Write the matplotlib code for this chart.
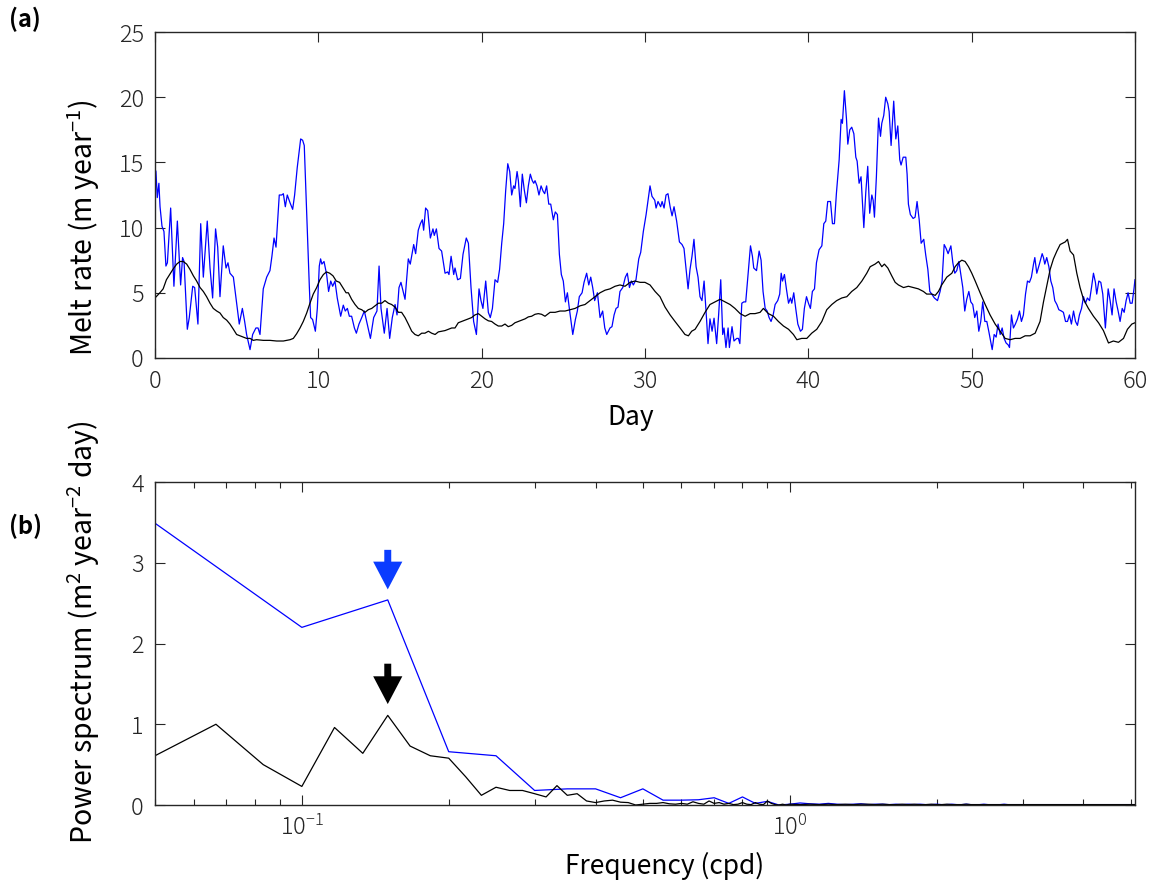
import numpy as np
import matplotlib
matplotlib.use('Agg')
import matplotlib.pyplot as plt
from matplotlib.ticker import LogLocator, NullFormatter

# (a) melt rate time series (day, m/yr)
blue_day = [
    0.0, 0.06, 0.14, 0.24, 0.31, 0.43, 0.55, 0.67, 0.76, 0.96, 1.16, 1.37, 1.57, 1.69, 1.78, 1.98,
    2.10, 2.31, 2.43, 2.63, 2.80, 2.96, 3.20, 3.37, 3.53, 3.71, 3.84, 3.98, 4.18, 4.35, 4.47, 4.59,
    4.80, 4.96, 5.16, 5.35, 5.49, 5.61, 5.82, 5.98, 6.18, 6.31, 6.43, 6.63, 6.84, 7.04, 7.16, 7.29,
    7.41, 7.61, 7.76, 7.86, 7.98, 8.10, 8.27, 8.43, 8.55, 8.71, 8.92, 9.04, 9.14, 9.29, 9.45, 9.53,
    9.65, 9.82, 9.94, 10.06, 10.14, 10.22, 10.35, 10.51, 10.63, 10.76, 10.88, 11.02, 11.16, 11.37,
    11.53, 11.65, 11.78, 11.90, 12.04, 12.21, 12.33, 12.49, 12.66, 12.82, 12.98, 13.19, 13.39,
    13.59, 13.72, 13.84, 14.04, 14.21, 14.37, 14.53, 14.70, 14.82, 14.94, 15.06, 15.31, 15.51,
    15.63, 15.84, 15.96, 16.12, 16.25, 16.37, 16.45, 16.57, 16.70, 16.86, 17.02, 17.10, 17.23,
    17.39, 17.55, 17.76, 17.92, 18.00, 18.13, 18.29, 18.37, 18.53, 18.70, 18.86, 19.06, 19.19,
    19.35, 19.51, 19.68, 19.84, 19.96, 20.08, 20.25, 20.41, 20.53, 20.66, 20.82, 20.98, 21.10,
    21.23, 21.35, 21.47, 21.60, 21.72, 21.84, 21.96, 22.04, 22.17, 22.25, 22.37, 22.49, 22.61,
    22.74, 22.86, 22.98, 23.10, 23.19, 23.27, 23.39, 23.51, 23.64, 23.76, 23.86, 23.98, 24.11,
    24.23, 24.39, 24.51, 24.64, 24.76, 24.88, 25.00, 25.13, 25.25, 25.37, 25.58, 25.74, 25.86,
    25.98, 26.15, 26.27, 26.43, 26.56, 26.68, 26.80, 26.92, 27.09, 27.25, 27.41, 27.54, 27.66,
    27.86, 27.98, 28.11, 28.23, 28.35, 28.47, 28.64, 28.80, 28.92, 29.05, 29.17, 29.29, 29.45,
    29.62, 29.74, 29.90, 30.07, 30.19, 30.31, 30.43, 30.60, 30.68, 30.80, 30.96, 31.05, 31.17,
    31.29, 31.41, 31.54, 31.66, 31.78, 31.94, 32.11, 32.27, 32.39, 32.51, 32.64, 32.76, 32.88,
    33.00, 33.13, 33.25, 33.37, 33.49, 33.62, 33.78, 33.86, 33.98, 34.11, 34.23, 34.39, 34.51,
    34.64, 34.76, 34.84, 34.96, 35.09, 35.17, 35.33, 35.45, 35.62, 35.72, 35.81, 35.93, 36.05,
    36.17, 36.30, 36.46, 36.58, 36.66, 36.83, 36.99, 37.11, 37.23, 37.36, 37.48, 37.60, 37.72,
    37.85, 37.97, 38.13, 38.25, 38.34, 38.42, 38.54, 38.66, 38.79, 38.91, 38.99, 39.11, 39.23,
    39.36, 39.52, 39.64, 39.76, 39.89, 40.01, 40.13, 40.25, 40.38, 40.50, 40.66, 40.83, 40.95,
    41.07, 41.19, 41.36, 41.48, 41.60, 41.72, 41.89, 42.01, 42.09, 42.21, 42.34, 42.42, 42.54,
    42.66, 42.79, 42.91, 42.99, 43.11, 43.23, 43.40, 43.52, 43.64, 43.76, 43.89, 43.97, 44.05,
    44.17, 44.30, 44.42, 44.50, 44.62, 44.74, 44.87, 44.95, 45.07, 45.23, 45.36, 45.48, 45.60,
    45.68, 45.81, 45.97, 46.05, 46.13, 46.25, 46.42, 46.54, 46.66, 46.79, 46.91, 47.07, 47.19,
    47.32, 47.44, 47.56, 47.72, 47.91, 48.07, 48.19, 48.32, 48.44, 48.56, 48.73, 48.85, 48.97,
    49.09, 49.22, 49.34, 49.46, 49.58, 49.70, 49.83, 49.95, 50.07, 50.19, 50.32, 50.44, 50.56,
    50.68, 50.81, 50.93, 51.05, 51.13, 51.26, 51.38, 51.50, 51.62, 51.75, 51.87, 51.99, 52.11,
    52.24, 52.32, 52.44, 52.56, 52.68, 52.81, 52.93, 53.05, 53.17, 53.30, 53.42, 53.54, 53.66,
    53.79, 53.87, 53.99, 54.15, 54.32, 54.40, 54.48, 54.60, 54.73, 54.85, 54.97, 55.09, 55.22,
    55.34, 55.50, 55.62, 55.75, 55.87, 55.99, 56.11, 56.24, 56.36, 56.48, 56.60, 56.73, 56.85,
    56.97, 57.09, 57.22, 57.34, 57.46, 57.58, 57.66, 57.79, 57.91, 58.03, 58.19, 58.36, 58.48,
    58.60, 58.72, 58.85, 58.97, 59.09, 59.22, 59.34, 59.46, 59.58, 59.71, 59.83, 59.95, 60.0]
blue_melt = [
    14.5, 14.3, 12.3, 13.4, 11.6, 10.1, 9.7, 7.05, 7.3, 11.5, 5.5, 10.5, 5.6, 7.7, 7.4, 2.2,
    3.1, 5.5, 5.4, 2.6, 10.3, 6.2, 10.5, 6.9, 4.6, 9.9, 8.5, 4.7, 8.6, 6.9, 7.3, 6.5,
    6.2, 4.6, 2.6, 3.8, 2.8, 1.8, 0.64, 1.8, 2.3, 2.3, 1.8, 5.3, 6.2, 6.7, 7.8, 9.2,
    8.5, 12.5, 12.5, 12.6, 11.6, 12.5, 11.9, 11.4, 12.5, 14.6, 16.8, 16.7, 16.3, 11.1, 5.5, 3.1,
    2.95, 2.05, 3.8, 7.05, 7.6, 7.2, 7.4, 6.4, 5.1, 5.9, 5.5, 5.9, 4.6, 3.2,
    4.05, 3.6, 3.8, 3.2, 3.2, 2.3, 1.9, 2.6, 3.1, 3.6, 2.7, 1.5, 3.1,
    3.6, 7.05, 3.8, 1.9, 3.8, 1.5, 3.1, 4.1, 3.3, 5.4, 5.8, 4.5, 7.6,
    7.2, 8.7, 8.0, 9.8, 10.3, 10.6, 9.8, 11.5, 11.3, 9.2, 9.9, 9.4, 9.9,
    8.4, 8.2, 6.5, 6.6, 6.4, 7.8, 6.4, 6.9, 6.0, 6.1, 7.95, 9.2, 8.8,
    5.4, 2.8, 1.8, 5.3, 4.4, 3.8, 5.9, 3.5, 3.1, 3.8, 6.0, 5.8, 6.8,
    8.8, 10.3, 12.8, 14.9, 14.3, 12.5, 13.2, 13.0, 14.3, 13.6, 11.6, 14.1, 12.9,
    11.9, 13.2, 14.1, 13.6, 13.4, 13.6, 13.2, 12.5, 13.2, 12.8, 12.6, 13.2, 11.8,
    11.8, 10.6, 11.2, 11.0, 7.95, 6.4, 5.9, 4.3, 5.0, 3.8, 1.8, 2.95, 3.6,
    4.7, 5.0, 5.8, 6.5, 5.6, 6.2, 5.4, 4.4, 5.0, 3.1, 3.6, 2.3, 1.8,
    2.3, 2.4, 3.3, 3.8, 3.9, 5.1, 5.4, 6.2, 6.5, 5.4, 5.9, 5.6, 6.0,
    7.6, 8.1, 9.7, 11.0, 12.1, 13.2, 12.4, 12.1, 11.5, 12.0, 11.6, 12.0, 11.5,
    12.5, 12.6, 11.6, 10.9, 11.6, 10.5, 8.9, 8.7, 8.4, 6.9, 5.3, 6.8, 7.8,
    9.1, 7.0, 6.2, 4.7, 4.4, 5.9, 2.8, 1.1, 3.0, 2.05, 3.05, 1.1, 3.3,
    6.0, 1.8, 2.3, 0.8, 2.3, 0.8, 2.4, 1.3, 1.5, 1.5, 1.1, 4.2, 4.3,
    4.3, 6.2, 8.6, 7.8, 6.9, 6.7, 8.2, 7.5, 5.1, 3.8, 3.6, 3.1, 2.8,
    3.3, 4.1, 4.4, 4.9, 6.5, 5.9, 6.4, 5.3, 4.2, 4.6, 4.2, 5.0, 3.8,
    2.6, 2.05, 2.2, 3.8, 4.7, 4.2, 3.8, 5.1, 5.3, 7.3, 8.3, 8.6, 10.3,
    10.5, 12.0, 12.0, 10.3, 10.3, 12.6, 15.2, 18.3, 18.0, 20.5, 18.3, 16.4, 17.5,
    17.7, 17.2, 15.4, 15.1, 13.4, 13.9, 10.0, 12.7, 14.7, 11.1, 12.5, 12.1, 10.8,
    13.9, 18.4, 17.0, 18.0, 18.6, 20.0, 19.5, 18.9, 16.3, 19.7, 16.8, 17.8, 15.2,
    14.8, 15.4, 15.4, 14.1, 11.8, 11.0, 10.7, 10.8, 12.0, 10.6, 8.8, 9.1, 7.9,
    6.8, 5.1, 4.9, 4.6, 4.4, 5.1, 5.9, 8.7, 8.4, 8.0, 8.6, 7.3, 6.5,
    6.7, 7.4, 6.4, 5.4, 3.6, 4.5, 5.1, 4.3, 4.1, 3.1, 3.6, 2.05, 2.8,
    4.3, 2.8, 2.8, 2.05, 1.5, 0.64, 1.8, 1.6, 2.6, 1.8, 2.3, 1.5, 1.15,
    1.0, 0.8, 3.3, 2.3, 2.6, 3.0, 3.6, 2.8, 3.3, 4.9, 5.9, 5.8, 6.2,
    7.2, 7.7, 6.5, 7.2, 8.0, 7.7, 7.2, 7.7, 7.0, 5.9, 5.4, 4.4, 4.1,
    3.7, 3.6, 3.5, 2.8, 2.8, 3.3, 2.6, 3.6, 2.8, 2.5, 3.3, 3.8, 4.7,
    4.2, 4.6, 4.4, 5.4, 6.5, 5.8, 4.9, 5.9, 5.8, 4.9, 2.3, 5.3, 4.4,
    3.3, 5.3, 4.3, 3.6, 2.8, 3.8, 3.5, 4.4, 5.0, 4.2, 4.2, 5.4, 6.0]

black_day = [
    0.0, 0.3, 0.5, 0.7, 0.9, 1.1, 1.33, 1.53, 1.73, 1.94, 2.14, 2.35, 2.55, 2.76, 2.96, 3.16,
    3.37, 3.57, 3.78, 3.98, 4.18, 4.39, 4.59, 4.8, 5.0, 5.2, 5.41, 5.61, 5.82, 6.02, 6.22, 6.63,
    7.04, 7.45, 7.86, 8.27, 8.47, 8.67, 8.88, 9.08, 9.29, 9.49, 9.69, 9.9, 10.1, 10.31, 10.5,
    10.7, 10.9, 11.1, 11.3, 11.5, 11.7, 11.84, 12.04, 12.25, 12.45, 12.66, 12.86, 13.06, 13.27,
    13.47, 13.68, 13.88, 14.08, 14.29, 14.49, 14.7, 14.9, 15.1, 15.31, 15.51, 15.72, 15.92,
    16.12, 16.33, 16.53, 16.74, 16.94, 17.15, 17.35, 17.55, 17.76, 17.96, 18.17, 18.37, 18.57,
    18.78, 18.98, 19.19, 19.39, 19.59, 19.8, 20.0, 20.21, 20.41, 20.61, 20.82, 21.02, 21.23,
    21.43, 21.63, 21.84, 22.04, 22.25, 22.45, 22.66, 22.86, 23.06, 23.27, 23.47, 23.67, 23.88,
    24.19, 24.5, 24.8, 25.11, 25.41, 25.72, 26.03, 26.33, 26.64, 26.94, 27.25, 27.56, 27.86,
    28.17, 28.47, 28.78, 29.09, 29.39, 29.7, 30.0, 30.31, 30.62, 30.92, 31.23, 31.54, 31.84,
    32.15, 32.45, 32.66, 32.86, 33.07, 33.37, 33.68, 33.98, 34.29, 34.6, 34.9, 35.21, 35.51,
    35.83, 36.13, 36.44, 36.74, 37.05, 37.25, 37.56, 37.87, 38.17, 38.48, 38.79, 39.09, 39.3,
    39.6, 39.91, 40.21, 40.52, 40.83, 41.13, 41.44, 41.74, 42.05, 42.36, 42.66, 42.97, 43.28,
    43.58, 43.79, 44.09, 44.3, 44.5, 44.66, 44.87, 45.11, 45.32, 45.52, 45.83, 46.13, 46.44,
    46.74, 47.05, 47.25, 47.56, 47.77, 47.97, 48.17, 48.48, 48.79, 48.99, 49.19, 49.4, 49.6,
    49.81, 50.01, 50.22, 50.52, 50.83, 51.13, 51.44, 51.75, 52.05, 52.36, 52.66, 52.97, 53.28,
    53.58, 53.89, 54.19, 54.4, 54.6, 54.81, 55.01, 55.22, 55.42, 55.73, 55.87, 56.03, 56.24,
    56.44, 56.64, 56.85, 57.15, 57.46, 57.77, 58.07, 58.38, 58.68, 58.99, 59.3, 59.54, 59.81, 60.0]
black_melt = [
    4.6, 5.0, 5.3, 6.0, 6.4, 6.8, 7.2, 7.4, 7.4, 7.2, 6.8, 6.3, 5.9, 5.4, 5.1, 4.7,
    4.2, 3.8, 3.6, 3.45, 3.1, 2.9, 2.6, 2.2, 1.8, 1.7, 1.6, 1.5, 1.5, 1.35, 1.4, 1.35,
    1.35, 1.3, 1.3, 1.4, 1.5, 1.85, 2.3, 2.8, 3.45, 4.2, 4.9, 5.4, 6.0, 6.4, 6.6,
    6.5, 6.3, 5.9, 5.8, 5.4, 5.0, 5.0, 4.5, 4.1, 3.8, 3.7, 3.5, 3.7, 3.8,
    4.0, 4.2, 4.2, 4.4, 4.2, 4.1, 3.9, 3.5, 3.5, 3.1, 2.6, 2.05, 1.8,
    1.7, 1.9, 1.9, 2.05, 1.9, 1.8, 2.0, 2.05, 2.1, 2.2, 2.3, 2.3, 2.7,
    2.8, 2.9, 3.0, 3.1, 3.3, 3.4, 3.2, 3.0, 2.85, 2.8, 2.6, 2.45, 2.45,
    2.6, 2.4, 2.5, 2.7, 2.8, 2.9, 3.0, 3.15, 3.2, 3.35, 3.4, 3.35, 3.2,
    3.5, 3.5, 3.6, 3.6, 3.7, 3.8, 4.0, 4.1, 4.4, 4.7, 5.0, 5.2, 5.3,
    5.5, 5.6, 5.5, 5.8, 5.9, 5.8, 5.8, 5.6, 5.1, 4.7, 3.9, 3.3, 2.8,
    2.3, 1.8, 1.7, 2.05, 2.2, 2.8, 3.5, 4.1, 4.3, 4.5, 4.3, 4.1, 3.8,
    3.4, 3.2, 3.4, 3.4, 3.5, 3.8, 3.4, 3.2, 2.8, 2.45, 2.2, 1.8, 1.4,
    1.5, 1.5, 1.9, 2.2, 2.8, 3.7, 4.1, 4.4, 4.6, 4.7, 5.1, 5.4, 5.9,
    6.5, 7.0, 7.2, 7.4, 7.0, 7.2, 6.9, 6.3, 5.8, 5.6, 5.4, 5.5, 5.4,
    5.3, 5.1, 4.9, 4.9, 4.8, 5.1, 5.6, 6.2, 6.5, 7.0, 7.3, 7.5, 7.4,
    7.0, 6.5, 5.9, 5.0, 4.1, 3.3, 2.6, 2.05, 1.5, 1.4, 1.5, 1.5, 1.7,
    1.7, 1.9, 2.8, 4.3, 5.5, 6.8, 7.6, 8.2, 8.7, 8.9, 9.1, 8.2, 7.9,
    6.5, 5.4, 4.5, 3.8, 3.2, 2.7, 2.1, 1.15, 1.3, 1.2, 1.5, 2.2, 2.6, 2.7]

# (b) power spectra
# blue: frequency step 0.05 cpd
blue_k = np.arange(1, 103)
blue_power = [
    3.49, 2.20, 2.54, 0.66, 0.61, 0.18, 0.20, 0.20, 0.09, 0.20,
    0.06, 0.06, 0.065, 0.09, 0.02, 0.10, 0.02, 0.045, 0.0, 0.01,
    0.025, 0.015, 0.01, 0.02, 0.01, 0.005, 0.01, 0.015, 0.005, 0.01,
    0.01, 0.005, 0.01, 0.005, 0.01, 0.005, 0.01, 0.005, 0.005, 0.01,
    0.005, 0.005, 0.01, 0.005, 0.005, 0.01, 0.005, 0.005, 0.005, 0.01,
    0.005, 0.005, 0.005, 0.005, 0.01, 0.005, 0.005, 0.005, 0.005, 0.005,
    0.005, 0.005, 0.005, 0.005, 0.005, 0.005, 0.005, 0.005, 0.005, 0.005,
    0.005, 0.005, 0.005, 0.005, 0.005, 0.005, 0.005, 0.005, 0.005, 0.005,
    0.005, 0.005, 0.005, 0.005, 0.005, 0.005, 0.005, 0.005, 0.005, 0.005,
    0.005, 0.005, 0.005, 0.005, 0.005, 0.005, 0.005, 0.005, 0.005, 0.005,
    0.005, 0.005]
# black: frequency step 1/60 cpd up to 1 cpd, then 0.05 cpd
black_k = np.arange(3, 61)
black_power_low = [
    0.61, 1.00, 0.50, 0.23, 0.96, 0.64, 1.11, 0.73, 0.61, 0.58,
    0.35, 0.12, 0.22, 0.18, 0.18, 0.14, 0.10, 0.24, 0.12, 0.14,
    0.05, 0.03, 0.05, 0.06, 0.035, 0.03, 0.0, 0.01, 0.02, 0.02,
    0.03, 0.015, 0.01, 0.02, 0.01, 0.04, 0.02, 0.01, 0.05, 0.02,
    0.03, 0.01, 0.02, 0.005, 0.01, 0.03, 0.01, 0.005, 0.03, 0.01,
    0.005, 0.05, 0.02, 0.005, 0.0, 0.01, 0.0, 0.01]
black_tail_k = np.arange(21, 103)
black_power_tail = [
    0.005, 0.01, 0.005, 0.01, 0.005, 0.01, 0.005, 0.01, 0.01, 0.005,
    0.01, 0.005, 0.005, 0.01, 0.005, 0.01, 0.005, 0.005, 0.01, 0.005,
    0.005, 0.01, 0.005, 0.005, 0.005, 0.01, 0.005, 0.005, 0.005, 0.005,
    0.005, 0.005, 0.005, 0.005, 0.005, 0.005, 0.005, 0.005, 0.005, 0.005,
    0.005, 0.005, 0.005, 0.005, 0.005, 0.005, 0.005, 0.005, 0.005, 0.005,
    0.005, 0.005, 0.005, 0.005, 0.005, 0.005, 0.005, 0.005, 0.005, 0.005,
    0.005, 0.005, 0.005, 0.005, 0.005, 0.005, 0.005, 0.005, 0.005, 0.005,
    0.005, 0.005, 0.005, 0.005, 0.005, 0.005, 0.005, 0.005, 0.005, 0.005,
    0.005, 0.005]

blue_freq = blue_k * 0.05
black_freq = np.concatenate([black_k / 60.0, black_tail_k * 0.05])
black_power = black_power_low + black_power_tail

plt.rcParams['font.family'] = ['Noto Sans CJK JP', 'DejaVu Sans']
plt.rcParams['mathtext.default'] = 'regular'
plt.rcParams['axes.unicode_minus'] = False

axcol = '#262626'
fig = plt.figure(figsize=(11.6, 8.9), dpi=100)
ax1 = fig.add_axes([0.1336, 0.5978, 0.8448, 0.3662])
ax2 = fig.add_axes([0.1336, 0.0955, 0.8448, 0.3629])

ax1.plot(blue_day, blue_melt, color='#0000ff', lw=0.9)
ax1.plot(black_day, black_melt, color='black', lw=0.9)
ax1.set_xlim(0, 60)
ax1.set_ylim(0, 25)
ax1.set_xticks(range(0, 61, 10))
ax1.set_yticks(range(0, 26, 5))
ax1.set_xlabel('Day', fontsize=19)
ax1.set_ylabel('Melt rate (m year$^{-1}$)', fontsize=20.5)

ax2.plot(blue_freq, blue_power, color='#0000ff', lw=0.9)
ax2.plot(black_freq, black_power, color='black', lw=0.9)
ax2.set_xscale('log')
ax2.set_xlim(0.05, 5.1)
ax2.set_ylim(0, 4)
ax2.set_yticks(range(0, 5))
ax2.xaxis.set_major_locator(LogLocator(base=10, numticks=10))
ax2.xaxis.set_minor_locator(LogLocator(base=10, subs=np.arange(2, 10), numticks=20))
ax2.xaxis.set_minor_formatter(NullFormatter())
ax2.set_xlabel('Frequency (cpd)', fontsize=19)
ax2.set_ylabel('Power spectrum (m$^2$ year$^{-2}$ day)', fontsize=20.5)

# arrows marking the spectral peak
arrow = 'simple,head_length=20,head_width=21,tail_width=5'
ax2.annotate('', xy=(0.15, 2.67), xytext=(0.15, 3.16),
             arrowprops=dict(arrowstyle=arrow, color='#0a3cff', lw=0,
                             shrinkA=0, shrinkB=0, mutation_scale=1))
ax2.annotate('', xy=(0.15, 1.25), xytext=(0.15, 1.75),
             arrowprops=dict(arrowstyle=arrow, color='black', lw=0,
                             shrinkA=0, shrinkB=0, mutation_scale=1))

for ax in (ax1, ax2):
    for s in ax.spines.values():
        s.set_color(axcol)
        s.set_linewidth(1.0)
    ax.tick_params(which='both', direction='in', top=True, right=True,
                   colors=axcol, labelsize=17, width=0.8)
    ax.tick_params(which='major', length=7, pad=8)
    ax.tick_params(which='minor', length=4)
    for lbl in ax.get_xticklabels() + ax.get_yticklabels():
        lbl.set_fontweight('light')

ax1.xaxis.set_label_coords(0.485, -0.14)
ax1.yaxis.set_label_coords(-0.054, 0.40)
ax2.xaxis.set_label_coords(0.52, -0.145)
ax2.yaxis.set_label_coords(-0.054, 0.535)

fig.text(0.008, 0.992, '(a)', fontsize=17, fontweight='bold', va='top', ha='left')
fig.text(0.008, 0.423, '(b)', fontsize=17, fontweight='bold', va='top', ha='left')

fig.savefig('out.png', dpi=100)
